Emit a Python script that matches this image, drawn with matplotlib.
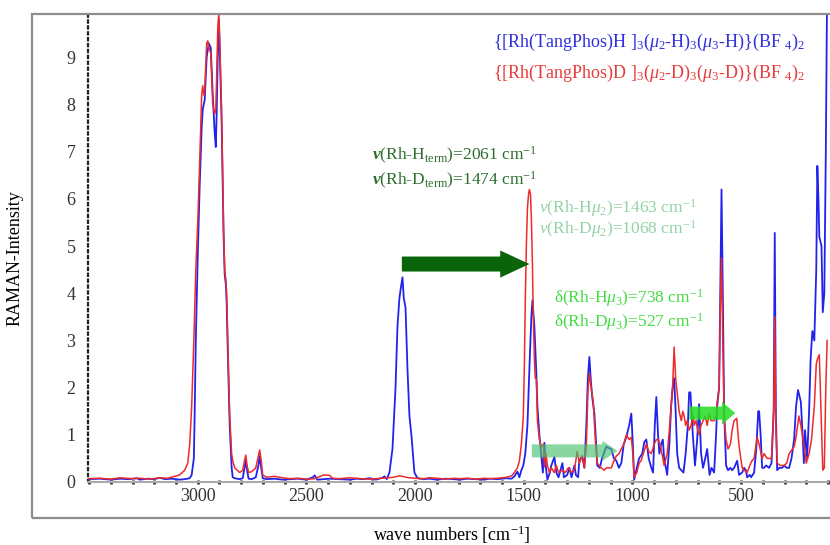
import numpy as np
import matplotlib
matplotlib.use("Agg")
from matplotlib import pyplot as plt
from matplotlib.patches import Rectangle

plt.rcParams['font.family'] = ['Liberation Serif', 'DejaVu Serif']
plt.rcParams['mathtext.fontset'] = 'custom'
plt.rcParams['mathtext.rm'] = 'Liberation Serif'
plt.rcParams['mathtext.it'] = 'Liberation Serif:italic'
plt.rcParams['mathtext.bf'] = 'Liberation Serif:bold'
plt.rcParams['mathtext.bfit'] = 'Liberation Serif:italic:bold'

# Raman spectrum, hydride complex (blue)
h_wavenumber = [3505, 3450, 3400, 3358, 3320, 3280, 3267, 3230, 3200, 3175, 3150, 3120, 3083, 3060, 3037,
                3028, 3018, 3014, 3009, 3000, 2991, 2982, 2977, 2968, 2959, 2949, 2940, 2931, 2922, 2917,
                2913, 2908, 2903, 2899, 2890, 2881, 2876, 2871, 2867, 2862, 2853, 2844, 2839, 2830, 2807,
                2793, 2785, 2779, 2773, 2766, 2752, 2733, 2721, 2715, 2708, 2701, 2683, 2646, 2610, 2577,
                2540, 2500, 2470, 2462, 2450, 2420, 2393, 2350, 2301, 2270, 2240, 2209, 2180, 2150, 2141,
                2130, 2118, 2104, 2090, 2081, 2072, 2066, 2058, 2052, 2044, 2035, 2026, 2016, 2003, 1989,
                1960, 1934, 1900, 1860, 1820, 1796, 1760, 1720, 1680, 1658, 1620, 1580, 1556, 1543, 1529,
                1520, 1511, 1502, 1493, 1483, 1474, 1465, 1460, 1451, 1442, 1437, 1428, 1419, 1412, 1405,
                1398, 1391, 1380, 1373, 1359, 1350, 1340, 1322, 1315, 1300, 1290, 1280, 1267, 1260, 1250,
                1244, 1231, 1221, 1212, 1205, 1198, 1192, 1185, 1175, 1166, 1162, 1150, 1140, 1120, 1110,
                1097, 1085, 1074, 1062, 1051, 1040, 1028, 1015, 1005, 998, 992, 980, 969, 955, 945,
                936, 925, 913, 905, 897, 890, 882, 876, 868, 860, 854, 840, 830, 822, 815,
                808, 801, 794, 785, 775, 765, 755, 745, 739, 733, 722, 712, 702, 693, 684,
                675, 665, 656, 645, 636, 624, 615, 610, 601, 596, 590, 584, 578, 569, 560,
                549, 541, 532, 518, 509, 495, 486, 478, 472, 460, 454, 440, 430, 421, 417,
                410, 403, 394, 385, 371, 360, 350, 345, 340, 334, 325, 311, 302, 290, 279,
                268, 256, 247, 238, 233, 225, 218, 211, 206, 196, 187, 180, 172, 163, 154,
                149, 144, 140, 130, 124, 117, 110, 104]
h_intensity = [0.06, 0.07, 0.05, 0.07, 0.06, 0.08, 0.05, 0.07, 0.06, 0.09, 0.06, 0.07, 0.05, 0.06, 0.08,
               0.15, 0.5, 1.5, 3.0, 4.8, 6.3, 7.5, 7.9, 8.1, 9.0, 9.3, 9.2, 8.2, 7.4, 7.1,
               7.8, 9.0, 9.8, 9.2, 7.6, 5.2, 4.4, 4.2, 3.8, 2.8, 1.2, 0.3, 0.1, 0.08, 0.06,
               0.08, 0.3, 0.45, 0.25, 0.07, 0.06, 0.1, 0.35, 0.55, 0.3, 0.08, 0.06, 0.07, 0.05, 0.06,
               0.07, 0.05, 0.1, 0.14, 0.05, 0.06, 0.07, 0.06, 0.05, 0.07, 0.06, 0.08, 0.05, 0.09, 0.12,
               0.06, 0.2, 0.7, 2.0, 3.3, 3.9, 4.1, 4.34, 3.9, 3.7, 2.4, 1.4, 0.95, 0.2, 0.08,
               0.06, 0.07, 0.05, 0.07, 0.06, 0.05, 0.07, 0.06, 0.05, 0.07, 0.06, 0.08, 0.07, 0.12, 0.22,
               0.1, 0.25, 0.35, 0.6, 1.2, 2.4, 3.5, 3.85, 3.3, 2.3, 1.6, 1.0, 0.55, 0.2, 0.83,
               0.3, 0.05, 0.2, 0.35, 0.53, 0.2, 0.1, 0.4, 0.1, 0.15, 0.3, 0.1, 0.35, 0.15, 0.1,
               0.46, 0.55, 0.3, 1.2, 2.2, 2.65, 2.2, 1.8, 1.45, 0.75, 0.35, 0.3, 0.5, 0.75, 0.72,
               0.7, 0.5, 0.45, 0.3, 0.4, 0.8, 0.95, 1.2, 1.45, 0.8, 0.05, 0.3, 0.5, 0.6, 0.85,
               0.9, 0.5, 0.3, 0.2, 1.2, 1.8, 1.0, 0.6, 0.8, 0.9, 0.5, 0.15, 0.8, 1.6, 2.0,
               2.2, 1.5, 0.6, 0.3, 0.25, 0.2, 0.6, 1.2, 1.9, 1.9, 1.0, 0.35, 0.9, 1.65, 0.6,
               0.3, 0.5, 0.7, 0.15, 0.3, 0.2, 1.0, 1.6, 2.0, 4.0, 6.2, 4.0, 1.5, 0.35, 0.25,
               0.3, 0.25, 0.3, 0.45, 0.15, 0.2, 0.3, 0.25, 0.1, 0.15, 0.1, 0.2, 0.7, 1.5, 1.5,
               1.0, 0.3, 0.3, 0.35, 0.3, 0.4, 1.5, 5.28, 1.5, 0.25, 0.3, 0.3, 0.35, 0.3, 0.3,
               0.5, 0.9, 1.6, 1.95, 1.85, 1.7, 1.1, 0.4, 1.1, 0.5, 1.5, 2.6, 3.2, 3.0, 4.5,
               6.7, 6.0, 5.2, 5.0, 3.6, 4.0, 7.0, 10.5]

# Raman spectrum, deuteride complex (red)
d_wavenumber = [3505, 3450, 3400, 3358, 3300, 3267, 3220, 3175, 3140, 3106, 3083, 3060, 3046, 3037, 3028,
                3018, 3009, 3000, 2991, 2982, 2977, 2972, 2968, 2959, 2954, 2949, 2940, 2931, 2922, 2917,
                2913, 2908, 2903, 2899, 2890, 2881, 2876, 2871, 2867, 2862, 2853, 2844, 2839, 2830, 2807,
                2793, 2785, 2779, 2773, 2766, 2752, 2733, 2721, 2715, 2708, 2701, 2683, 2646, 2610, 2577,
                2540, 2500, 2462, 2420, 2393, 2380, 2350, 2301, 2250, 2209, 2150, 2100, 2072, 2058, 2030,
                2000, 1960, 1934, 1900, 1860, 1820, 1796, 1760, 1720, 1680, 1658, 1620, 1580, 1556, 1543,
                1529, 1520, 1511, 1502, 1497, 1493, 1488, 1483, 1478, 1474, 1469, 1465, 1460, 1456, 1451,
                1447, 1442, 1437, 1428, 1419, 1410, 1405, 1398, 1391, 1382, 1373, 1360, 1350, 1340, 1322,
                1309, 1295, 1280, 1267, 1254, 1244, 1231, 1221, 1212, 1205, 1198, 1190, 1180, 1170, 1162,
                1143, 1130, 1120, 1097, 1085, 1074, 1062, 1051, 1040, 1028, 1015, 1005, 998, 992, 980,
                969, 960, 950, 936, 925, 913, 900, 890, 880, 868, 854, 840, 830, 822, 815,
                808, 801, 794, 785, 775, 768, 762, 755, 748, 739, 730, 720, 716, 707, 700,
                693, 684, 675, 665, 656, 647, 638, 624, 615, 610, 601, 596, 590, 584, 578,
                569, 560, 549, 541, 532, 520, 509, 495, 486, 472, 460, 450, 440, 426, 417,
                403, 394, 380, 360, 350, 345, 340, 334, 320, 302, 290, 279, 256, 247, 234,
                225, 211, 200, 187, 176, 163, 154, 149, 140, 130, 124, 117, 110, 104]
d_intensity = [0.07, 0.08, 0.06, 0.09, 0.07, 0.08, 0.06, 0.09, 0.08, 0.12, 0.15, 0.25, 0.4, 0.8, 1.6,
               3.0, 4.5, 5.5, 6.8, 8.2, 8.4, 8.2, 8.3, 9.3, 9.35, 9.2, 9.1, 8.0, 7.8, 7.9,
               8.6, 9.6, 9.95, 9.4, 7.8, 5.3, 4.5, 4.3, 4.0, 3.0, 1.4, 0.6, 0.45, 0.3, 0.2,
               0.25, 0.45, 0.57, 0.35, 0.2, 0.22, 0.3, 0.55, 0.68, 0.45, 0.15, 0.1, 0.12, 0.09, 0.07,
               0.08, 0.06, 0.07, 0.15, 0.14, 0.08, 0.07, 0.09, 0.07, 0.06, 0.08, 0.1, 0.13, 0.12, 0.09,
               0.08, 0.07, 0.09, 0.08, 0.06, 0.08, 0.07, 0.08, 0.06, 0.08, 0.07, 0.08, 0.1, 0.13, 0.2,
               0.3, 0.45, 0.8, 1.4, 2.5, 3.8, 5.0, 5.8, 6.1, 6.2, 6.1, 5.6, 4.6, 3.5, 2.6,
               2.2, 2.2, 1.3, 0.9, 0.75, 0.8, 0.32, 0.6, 0.35, 0.2, 0.3, 0.2, 0.35, 0.2, 0.25,
               0.2, 0.3, 0.2, 0.25, 0.65, 0.4, 0.55, 0.3, 0.75, 1.9, 2.3, 2.0, 1.7, 0.85, 0.4,
               0.3, 0.25, 0.3, 0.3, 0.45, 0.55, 0.6, 0.7, 0.8, 1.0, 0.9, 0.95, 0.6, 0.1, 0.2,
               0.4, 0.45, 0.6, 0.8, 0.65, 0.6, 0.8, 0.9, 0.9, 0.7, 0.35, 0.6, 1.1, 1.6, 2.0,
               2.86, 2.2, 1.9, 1.5, 1.3, 1.5, 1.4, 1.2, 1.3, 1.1, 1.2, 1.4, 1.2, 1.3, 1.1,
               1.0, 1.2, 1.3, 1.4, 1.2, 1.45, 1.3, 1.3, 1.4, 1.7, 2.0, 3.5, 4.75, 3.0, 1.4,
               0.9, 0.7, 0.8, 1.1, 1.3, 1.35, 0.75, 0.3, 0.25, 0.2, 0.35, 0.45, 0.5, 0.95, 0.8,
               0.5, 0.6, 0.5, 0.5, 1.5, 3.5, 1.2, 0.4, 0.35, 0.35, 0.4, 0.6, 0.75, 0.95, 1.4,
               1.2, 0.8, 0.4, 0.6, 0.9, 1.6, 2.5, 2.6, 2.7, 1.2, 0.25, 0.3, 2.0, 3.0]

# band assignments (arrows from H to D band)
arrow_from = [2061, 1463, 738]
arrow_to = [1474, 1068, 527]
arrow_level = [4.62, 0.66, 1.46]

fig = plt.figure(figsize=(8.3, 5.45), dpi=100)
ax = fig.add_axes([88 / 830, 63 / 545, 740 / 830, 468 / 545])

# outer frame round plot and tick labels
fig.patches.append(Rectangle((32 / 830, 27 / 545), 0.98, 504 / 545, transform=fig.transFigure,
                             fill=False, ec='#8c8c8c', lw=1.6, zorder=0))

ax.plot(h_wavenumber, h_intensity, color='#2222ee', lw=1.3, zorder=3)
ax.plot(d_wavenumber, d_intensity, color='#ee2a2a', lw=1.1, zorder=4)

ax.set_xlim(3505, 100)
ax.set_ylim(0, 9.92)
ax.set_xticks([3000, 2500, 2000, 1500, 1000, 500])
ax.set_xticks(np.arange(3500, 99, -100), minor=True)
ax.set_yticks(range(10))
ax.tick_params(axis='x', which='both', direction='inout', length=3, width=2, color='#333333',
               labelsize=13, pad=3, labelcolor='#333333')
ax.tick_params(axis='y', length=0, pad=9, labelsize=13, labelcolor='#333333')

for side in ['top', 'right']:
    ax.spines[side].set_visible(False)
ax.spines['left'].set_linestyle(':')
ax.spines['left'].set_linewidth(1.6)
ax.spines['left'].set_color('#222222')
ax.spines['bottom'].set_color('#aaaaaa')
ax.spines['bottom'].set_linewidth(1.5)

fig.text(15 / 830, 1 - 258 / 545, 'RAMAN-Intensity', rotation=90, ha='center', va='center', fontsize=13)
fig.text(452 / 830, 1 - 535 / 545, r'wave numbers [cm$^{-1}$]', ha='center', va='center', fontsize=13)

# compound labels
ax.text(1640, 9.32, r'{[Rh(TangPhos)H ]$_3$($\mu_2$-H)$_3$($\mu_3$-H)}(BF $_4$)$_2$',
        color='#3030dd', fontsize=13, va='center', ha='left')
ax.text(1640, 8.67, r'{[Rh(TangPhos)D ]$_3$($\mu_2$-D)$_3$($\mu_3$-D)}(BF $_4$)$_2$',
        color='#e83c3c', fontsize=13, va='center', ha='left')

# band labels
ax.text(2200, 6.93, r'$\mathbfit{v}$(Rh-H$_{\mathrm{term}}$)=2061 cm$^{-1}$', color='#2d6e2d',
        fontsize=12.5, va='center')
ax.text(2200, 6.40, r'$\mathbfit{v}$(Rh-D$_{\mathrm{term}}$)=1474 cm$^{-1}$', color='#2d6e2d',
        fontsize=12.5, va='center')
ax.text(1428, 5.80, r'$v$(Rh-H$\mu_2$)=1463 cm$^{-1}$', color='#92d3a5', fontsize=12.5, va='center')
ax.text(1428, 5.36, r'$v$(Rh-D$\mu_2$)=1068 cm$^{-1}$', color='#92d3a5', fontsize=12.5, va='center')
ax.text(1359, 3.90, r'δ(Rh-H$\mu_3$)=738 cm$^{-1}$', color='#44dd44', fontsize=12.5, va='center')
ax.text(1359, 3.39, r'δ(Rh-D$\mu_3$)=527 cm$^{-1}$', color='#44dd44', fontsize=12.5, va='center')

arrow_styles = ['simple,head_length=2.1,head_width=1.95,tail_width=1.08',
                'simple,head_length=1.1,head_width=1.45,tail_width=0.94',
                'simple,head_length=0.95,head_width=1.65,tail_width=0.94']
arrow_colors = ['#0a640a', '#4cc070', '#22dd22']
arrow_alpha = [1.0, 0.65, 0.85]
for x0, x1, y, st, c, a in zip(arrow_from, arrow_to, arrow_level, arrow_styles, arrow_colors, arrow_alpha):
    ax.annotate('', xy=(x1, y), xytext=(x0, y),
                arrowprops=dict(arrowstyle=st, fc=c, ec='none', alpha=a, shrinkA=0, shrinkB=0,
                                mutation_scale=10), zorder=5)

fig.savefig('out.png', dpi=100)
